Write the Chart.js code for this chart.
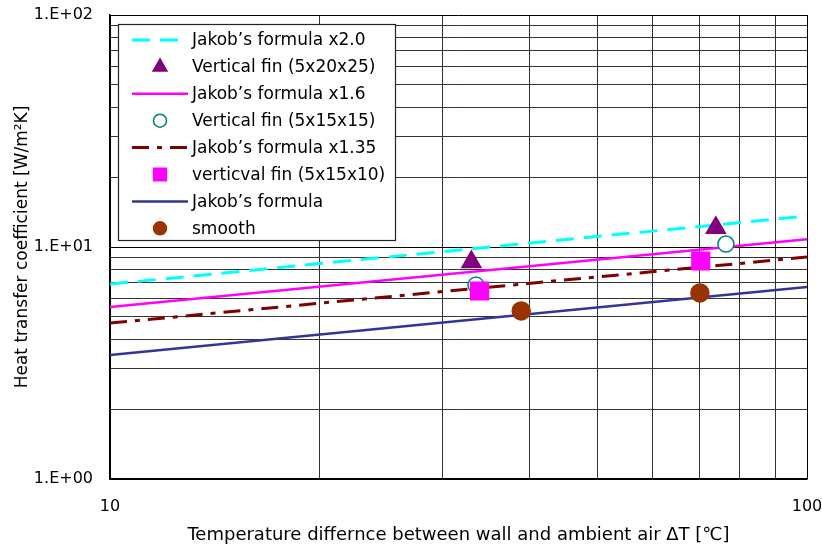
<!DOCTYPE html>
<html>
<head>
<meta charset="utf-8">
<script src="https://cdn.jsdelivr.net/npm/chart.js@4.4.1/dist/chart.umd.min.js"></script>
<style>
  html, body { margin: 0; padding: 0; background: #fff; }
  #chart { display: block; }
</style>
</head>
<body>
<canvas id="chart" width="822" height="547"></canvas>
<script>
// values
const lineX = [10, 100];
const jakob = [3.42, 6.72];
const jakob135 = [4.70, 9.05];
const jakob16 = [5.51, 10.8];
const jakob20 = [6.92, 13.6];

const fin20x25X = [33.0, 74.0];
const fin20x25Y = [8.61, 12.1];
const fin15x15X = [33.5, 76.5];
const fin15x15Y = [6.85, 10.3];
const fin15x10X = [33.9, 70.4];
const fin15x10Y = [6.46, 8.70];
const smoothX = [38.9, 70.2];
const smoothY = [5.30, 6.34];

const xTickLabels = { 10: "10", 100: "100" };
const yTickLabels = { 1: "1.E+00", 10: "1.E+01", 100: "1.E+02" };

const FONT = "'DejaVu Sans', 'Noto Sans CJK JP', sans-serif";

function pts(xs, ys) {
  return xs.map((x, i) => ({ x: x, y: ys[i] }));
}

function lineSet(label, ys, color, width, dash) {
  return {
    label: label,
    data: pts(lineX, ys),
    showLine: true,
    borderColor: color,
    backgroundColor: color,
    borderWidth: width,
    borderDash: dash,
    pointRadius: 0,
    pointHoverRadius: 0,
  };
}

function markerSet(label, xs, ys, style, radius, fill, stroke) {
  return {
    label: label,
    data: pts(xs, ys),
    showLine: false,
    pointStyle: style,
    pointRadius: radius,
    pointHoverRadius: radius,
    pointBackgroundColor: fill,
    pointBorderColor: stroke,
    pointBorderWidth: 1.5,
    borderColor: stroke,
    backgroundColor: fill,
  };
}

const datasets = [
  lineSet("Jakob\u2019s formula x2.0", jakob20, "#00FFFF", 3, [18, 10]),
  markerSet("Vertical fin (5x20x25)", fin20x25X, fin20x25Y, "triangle", 11, "#800080", "#800080"),
  lineSet("Jakob\u2019s formula x1.6", jakob16, "#FF00FF", 2.5, []),
  markerSet("Vertical fin (5x15x15)", fin15x15X, fin15x15Y, "circle", 8, "#FFFFFF", "#008080"),
  lineSet("Jakob\u2019s formula x1.35", jakob135, "#800000", 3, [17, 8, 5, 8]),
  markerSet("verticval fin (5x15x10)", fin15x10X, fin15x10Y, "rect", 12.5, "#FF00FF", "#FF00FF"),
  lineSet("Jakob\u2019s formula", jakob, "#333399", 2.5, []),
  markerSet("smooth", smoothX, smoothY, "circle", 9, "#993300", "#993300"),
];
// later series paint over earlier ones
datasets.forEach((ds, i) => { ds.order = datasets.length - i; });

// legend box drawn inside the plot, like the spreadsheet one
const boxLegend = {
  id: "boxLegend",
  afterDraw(chart) {
    const ctx = chart.ctx;
    const left = 118, top = 24, width = 277, height = 216;
    const rowH = 26.9;
    ctx.save();
    ctx.fillStyle = "#fff";
    ctx.fillRect(left, top, width, height);
    ctx.strokeStyle = "#222";
    ctx.lineWidth = 1.2;
    ctx.strokeRect(left + 0.5, top + 0.5, width, height);
    chart.data.datasets.forEach((ds, i) => {
      const y = top + 16 + i * rowH;
      if (ds.showLine) {
        ctx.beginPath();
        ctx.setLineDash(ds.borderDash || []);
        ctx.strokeStyle = ds.borderColor;
        ctx.lineWidth = ds.borderWidth;
        ctx.moveTo(132, y);
        ctx.lineTo(188, y);
        ctx.stroke();
        ctx.setLineDash([]);
      } else {
        ctx.fillStyle = ds.pointBackgroundColor;
        ctx.strokeStyle = ds.pointBorderColor;
        ctx.lineWidth = ds.pointBorderWidth;
        Chart.helpers.drawPoint(ctx, {
          pointStyle: ds.pointStyle,
          radius: ds.pointStyle === "rect" ? 9 : (ds.pointStyle === "triangle" ? 8 : 6.5),
          rotation: 0,
          borderWidth: ds.pointBorderWidth,
        }, 160, y);
      }
      ctx.fillStyle = "#000";
      ctx.font = "17px " + FONT;
      ctx.textBaseline = "middle";
      ctx.textAlign = "left";
      ctx.fillText(ds.label, 192, y + 1);
    });
    ctx.restore();
  },
};

// keep only 1..9 x 10^n ticks, like the spreadsheet log grid
function decadeTicks(scale) {
  scale.ticks = scale.ticks.filter((t) => {
    const m = t.value / Math.pow(10, Math.floor(Math.log10(t.value) + 1e-9));
    return Math.abs(m - Math.round(m)) < 1e-6;
  });
}

function gridColor(c) {
  const v = c.tick && c.tick.value;
  if (v === undefined) return "#000";
  const l = Math.log10(v);
  return Math.abs(l - Math.round(l)) < 1e-6 ? "#000" : "#333";
}

new Chart(document.getElementById("chart"), {
  type: "scatter",
  data: { datasets: datasets },
  options: {
    responsive: false,
    animation: false,
    layout: { padding: { left: 0, right: 15, top: 15, bottom: 0 } },
    plugins: {
      legend: { display: false },
      tooltip: { enabled: false },
    },
    scales: {
      x: {
        type: "logarithmic",
        min: 10,
        max: 100,
        afterBuildTicks: decadeTicks,
        afterFit(scale) {
          scale.height = 68;
          scale.paddingLeft = 0;
          scale.paddingRight = 0;
        },
        border: { color: "#000", width: 1.5 },
        grid: { color: gridColor, lineWidth: 1, drawTicks: false },
        ticks: {
          autoSkip: false,
          maxRotation: 0,
          padding: 18,
          color: "#000",
          font: { family: FONT, size: 16 },
          callback: (v) => xTickLabels[v] || "",
        },
        title: {
          display: true,
          text: "Temperature differnce between wall and ambient air \u0394T [\u2103]",
          color: "#000",
          font: { family: FONT, size: 18 },
          padding: { top: 0, bottom: 1 },
        },
      },
      y: {
        type: "logarithmic",
        min: 1,
        max: 100,
        afterBuildTicks: decadeTicks,
        afterFit(scale) {
          scale.width = 110;
          scale.paddingTop = 0;
          scale.paddingBottom = 0;
        },
        border: { color: "#000", width: 1.5 },
        grid: { color: gridColor, lineWidth: 1, drawTicks: false },
        ticks: {
          autoSkip: false,
          padding: 17,
          color: "#000",
          font: { family: FONT, size: 16 },
          callback: (v) => yTickLabels[v] || "",
        },
        title: {
          display: true,
          text: "Heat transfer coefficient [W/m\u00B2K]",
          color: "#000",
          font: { family: FONT, size: 17 },
          padding: { top: 12, bottom: 0 },
        },
      },
    },
  },
  plugins: [boxLegend],
});
</script>
</body>
</html>
